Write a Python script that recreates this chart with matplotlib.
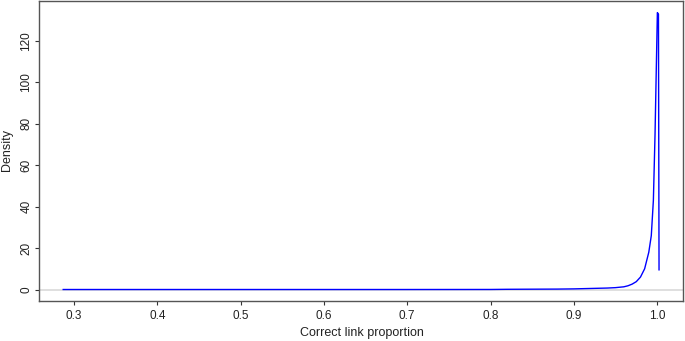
import matplotlib
matplotlib.use("Agg")
import matplotlib.pyplot as plt

# density estimate of correct link proportion
xs = [0.287, 0.40, 0.50, 0.60, 0.70, 0.80, 0.82, 0.85, 0.88, 0.90, 0.92, 0.94,
      0.95, 0.96, 0.965, 0.97, 0.975, 0.98, 0.985, 0.99, 0.993, 0.9955, 0.9975,
      1.0003, 1.0016, 1.0023]
dens = [0.0, 0.0, 0.0, 0.0, 0.0, 0.02, 0.1, 0.15, 0.2, 0.3, 0.5, 0.7,
        0.9, 1.3, 1.8, 2.6, 3.8, 6.0, 10.0, 18.0, 26.0, 43.0, 75.0,
        133.7, 133.0, 9.5]

xticks = [0.3, 0.4, 0.5, 0.6, 0.7, 0.8, 0.9, 1.0]
yticks = [0, 20, 40, 60, 80, 100, 120]


def main():
    plt.rcParams['font.family'] = ['Liberation Sans', 'DejaVu Sans']
    fig = plt.figure(figsize=(6.85, 3.41), dpi=100)
    ax = fig.add_axes([0.057, 0.117, 0.940, 0.880])

    ax.axhline(0, color="#dcdcdc", lw=1.3, zorder=1)
    ax.plot(xs, dens, color="blue", lw=1.0, zorder=2)

    ax.set_xlim(0.258, 1.031)
    ax.set_ylim(-5.6, 139.3)
    ax.set_xticks(xticks)
    ax.set_xticklabels(["0.3", "0.4", "0.5", "0.6", "0.7", "0.8", "0.9", "1.0"])
    ax.set_yticks(yticks)
    ax.set_yticklabels([str(v) for v in yticks], rotation=90, va="center")
    ax.tick_params(direction="out", length=3.2, width=0.8, labelsize=8.5,
                   colors="#333333", labelcolor="#222222")
    ax.tick_params(axis="x", pad=3.5)
    ax.tick_params(axis="y", pad=1.5)
    for s in ax.spines.values():
        s.set_color("#555555")
        s.set_linewidth(1.0)

    fig.text(0.528, 0.022, "Correct link proportion", fontsize=9, color="#222222",
             ha="center", va="center")
    fig.text(0.010, 0.56, "Density", fontsize=9, color="#222222",
             ha="center", va="center", rotation=90)

    fig.savefig("out.png", dpi=100)


if __name__ == "__main__":
    main()
